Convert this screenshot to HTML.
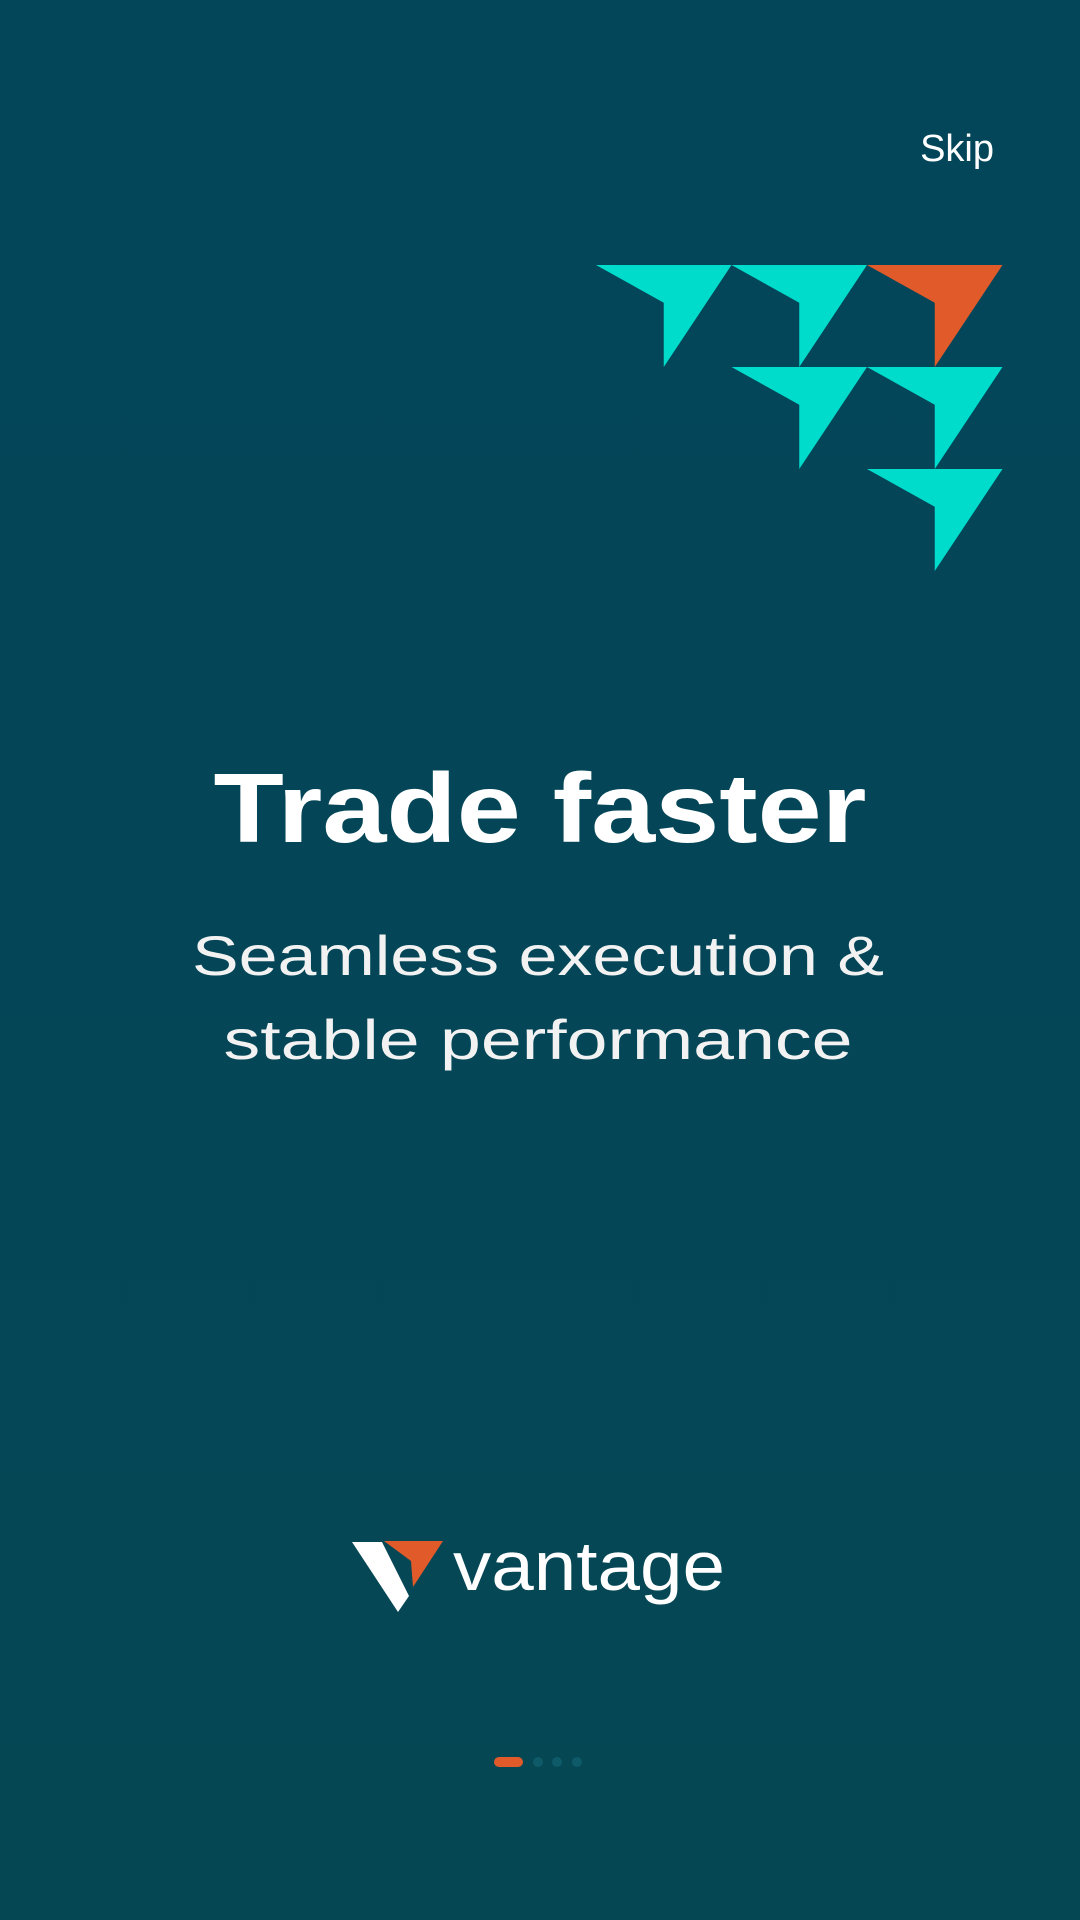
<!DOCTYPE html>
<html><head><meta charset="utf-8"><style>
html,body{margin:0;padding:0;background:#04465a;}
svg{display:block}
</style></head><body>
<svg width="1080" height="1920" viewBox="0 0 1080 1920">
<defs><linearGradient id="bg" x1="0" y1="0" x2="0" y2="1"><stop offset="0" stop-color="#03465a"/><stop offset="1" stop-color="#064754"/></linearGradient></defs>
<rect width="1080" height="1920" fill="url(#bg)"/>
<text x="994" y="161" text-anchor="end" font-family="Liberation Sans, sans-serif" font-size="38" fill="#ffffff">Skip</text>
<g id="arrows"></g>
<text x="540" y="842" text-anchor="middle" font-family="Liberation Sans, sans-serif" font-weight="bold" font-size="98" fill="#ffffff" textLength="653" lengthAdjust="spacingAndGlyphs">Trade faster</text>
<text x="538" y="975" text-anchor="middle" font-family="Liberation Sans, sans-serif" font-size="56" fill="#f2f2f2" textLength="692" lengthAdjust="spacingAndGlyphs">Seamless execution &amp;</text>
<text x="538" y="1059" text-anchor="middle" font-family="Liberation Sans, sans-serif" font-size="56" fill="#f2f2f2" textLength="629" lengthAdjust="spacingAndGlyphs">stable performance</text>
<g>
<polygon points="352,1542 382,1542 409,1596 398,1612" fill="#ffffff"/>
<polygon points="384,1541 443,1541 413,1587 411,1561" fill="#e15a2a"/>
<text x="453" y="1590" font-family="Liberation Sans, sans-serif" font-size="70" fill="#ffffff" textLength="272" lengthAdjust="spacingAndGlyphs">vantage</text>
</g>
<g>
<rect x="494" y="1757" width="29" height="10" rx="5" fill="#e15a2a"/>
<circle cx="538" cy="1762" r="5" fill="#0e5a68"/>
<circle cx="557" cy="1762" r="5" fill="#0e5a68"/>
<circle cx="577" cy="1762" r="5" fill="#0e5a68"/>
</g>
</svg>
<script>
const arrowCols=[0,1,2,1,2,2];
const arrowRows=[0,0,0,1,1,2];
const arrowOrange=[false,false,true,false,false,false];
const g=document.getElementById('arrows');
const NS='http://www.w3.org/2000/svg';
const x0=596,y0=265,W=135.5,H=102;
for(let i=0;i<arrowCols.length;i++){
  const x=x0+arrowCols[i]*W, y=y0+arrowRows[i]*H;
  const p=document.createElementNS(NS,'polygon');
  p.setAttribute('points',`${x},${y} ${x+W},${y} ${x+W*0.5},${y+H} ${x+W*0.5},${y+H*0.37}`);
  p.setAttribute('fill',arrowOrange[i]?'#e15a2a':'#00dccb');
  
  
  g.appendChild(p);
}
</script>
</body></html>
